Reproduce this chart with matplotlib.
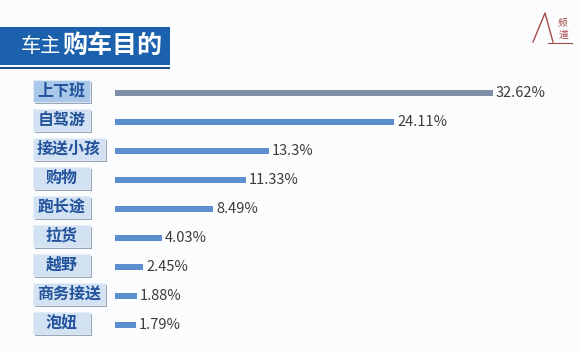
import matplotlib.pyplot as plt
from matplotlib.patches import Rectangle

plt.rcParams['font.family'] = ['Noto Sans CJK SC', 'DejaVu Sans']

# 数据
purposes = ['上下班', '自驾游', '接送小孩', '购物', '跑长途', '拉货', '越野', '商务接送', '泡妞']
shares = [32.62, 24.11, 13.3, 11.33, 8.49, 4.03, 2.45, 1.88, 1.79]
value_labels = ['32.62%', '24.11%', '13.3%', '11.33%', '8.49%', '4.03%', '2.45%', '1.88%', '1.79%']

W, H = 580, 351
fig = plt.figure(figsize=(W / 100, H / 100), dpi=100)
fig.patch.set_facecolor('#fbfcfd')

# 标题条
fig.patches.append(Rectangle((0, 1 - 65 / H), 170 / W, 38 / H, transform=fig.transFigure,
                             facecolor='#1b61ad', edgecolor='none'))
fig.patches.append(Rectangle((0, 1 - 69 / H), 170 / W, 2 / H, transform=fig.transFigure,
                             facecolor='#1b4f8c', edgecolor='none'))
fig.text(21 / W, 1 - 47 / H, '车主', color='white', fontsize=14.5, va='center', ha='left')
fig.text(62 / W, 1 - 46 / H, '购车目的', color='white', fontsize=18, fontweight='bold',
         va='center', ha='left')

# 右上角标志
logo = '#a34a48'
fig.add_artist(plt.Line2D([533 / W, 545 / W, 553 / W], [1 - 42 / H, 1 - 13 / H, 1 - 42 / H],
                          transform=fig.transFigure, color=logo, lw=1.0))
fig.add_artist(plt.Line2D([548 / W, 572 / W], [1 - 43 / H, 1 - 43 / H],
                          transform=fig.transFigure, color=logo, lw=0.8))
fig.text(563 / W, 1 - 22 / H, '频', color=logo, fontsize=7, ha='center', va='center')
fig.text(563 / W, 1 - 35 / H, '道', color=logo, fontsize=7, ha='center', va='center')

# 条形图
px_per_unit = 11.59
x0 = 115
ax = fig.add_axes([x0 / W, 1 - 339.5 / H, (W - x0) / W, 261 / H])
ax.set_xlim(0, (W - x0) / px_per_unit)
ax.set_ylim(len(purposes) - 0.5, -0.5)
ax.axis('off')
ax.patch.set_alpha(0)

colors = ['#7e8fa6'] + ['#5b8fcf'] * (len(purposes) - 1)
ax.barh(range(len(purposes)), shares, height=0.24, color=colors)

for i, (v, lab) in enumerate(zip(shares, value_labels)):
    ax.text(v + 0.25, i, lab, va='center', ha='left', fontsize=10.5, color='#3c3c3c')

# 左侧标签框
for i, name in enumerate(purposes):
    bw = max(57, len(name) * 15 + 12) / px_per_unit
    bx = (33 - x0) / px_per_unit
    bh = 22 / 29
    yc = i - 0.08
    shadow = Rectangle((bx + 2 / px_per_unit, yc - bh / 2 + 2 / 29), bw, bh,
                       facecolor='#9aa6b4', edgecolor='none', clip_on=False, zorder=2)
    fill = '#a8c7e9' if i == 0 else '#d2e2f3'
    box = Rectangle((bx, yc - bh / 2), bw, bh, facecolor=fill, edgecolor='#e6eef8',
                    lw=0.6, clip_on=False, zorder=3)
    ax.add_patch(shadow)
    ax.add_patch(box)
    ax.text(bx + bw / 2, yc, name, ha='center', va='center', fontsize=11.5,
            fontweight='bold', color='#21529a', zorder=4, clip_on=False)

plt.savefig('out.png', dpi=100, facecolor=fig.get_facecolor())
